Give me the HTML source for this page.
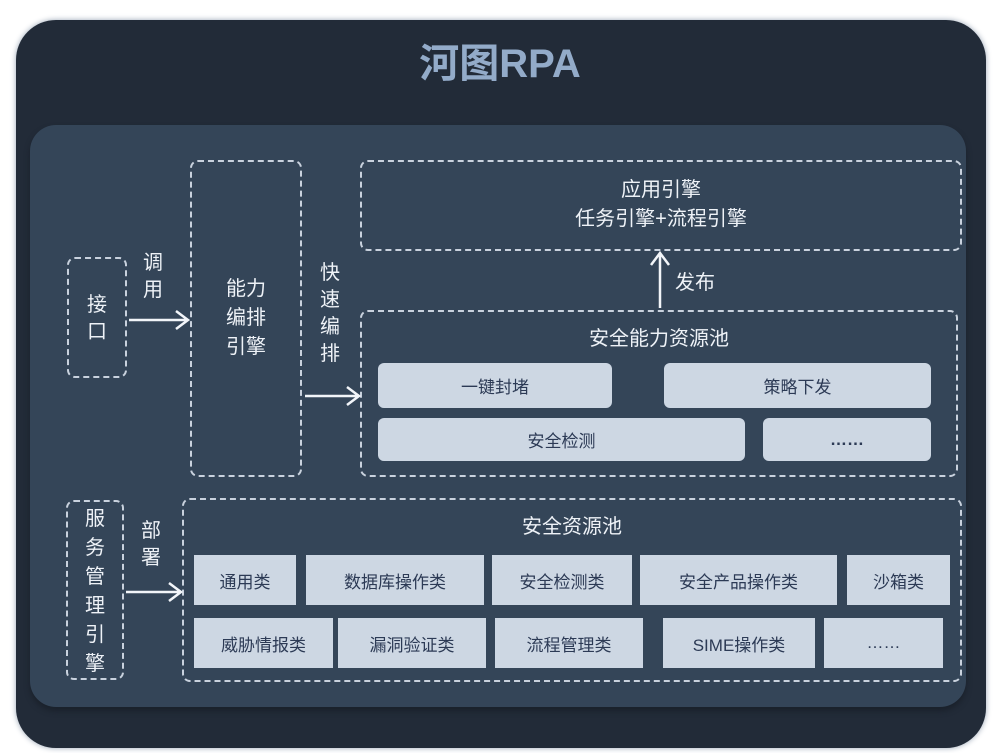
<!DOCTYPE html>
<html><head><meta charset="utf-8"><style>
*{margin:0;padding:0;box-sizing:border-box}
body{width:1000px;height:753px;background:#fff;position:relative;overflow:hidden;font-family:"Liberation Sans","Noto Sans CJK SC",sans-serif}
.a{position:absolute}
.outer{left:16px;top:20px;width:970px;height:728px;background:#222b38;border-radius:40px;box-shadow:0 0 6px #9aa6b6}
.inner{left:30px;top:125px;width:936px;height:582px;background:#344558;border-radius:26px;box-shadow:0 4px 6px #1a212b}
.d{position:absolute;border:2px dashed #c9d2de;border-radius:8px}
.t{position:absolute;color:#eef2f7;font-size:20px;text-align:center;line-height:24px}
.v{position:absolute;color:#eef2f7;font-size:20px;width:24px;text-align:center;line-height:24px}
.c{position:absolute;background:#cdd7e3;color:#2c3a55;font-size:17px;display:flex;align-items:center;justify-content:center}
.r{border-radius:6px}
</style></head><body>
<div class="a outer"></div>
<div class="a inner"></div>
<div class="a" style="left:0;width:1000px;top:38px;text-align:center;font-size:40px;font-weight:bold;color:#93abc9;line-height:52px">河图RPA</div>

<div class="d" style="left:67px;top:257px;width:60px;height:121px"></div>
<div class="v" style="left:85px;top:292px;line-height:27px">接口</div>
<div class="v" style="left:141px;top:250px;line-height:27px">调用</div>

<div class="d" style="left:190px;top:160px;width:112px;height:317px"></div>
<div class="t" style="left:200px;top:275px;width:92px;line-height:29px">能力<br>编排<br>引擎</div>
<div class="v" style="left:318px;top:260px;line-height:27px">快速编排</div>

<div class="d" style="left:360px;top:160px;width:602px;height:91px"></div>
<div class="t" style="left:360px;top:176px;width:602px;line-height:29px">应用引擎<br>任务引擎+流程引擎</div>
<div class="t" style="left:670px;top:271px;width:50px">发布</div>

<div class="d" style="left:360px;top:310px;width:598px;height:167px"></div>
<div class="t" style="left:360px;top:327px;width:598px">安全能力资源池</div>
<div class="c r" style="left:378px;top:363px;width:234px;height:45px">一键封堵</div>
<div class="c r" style="left:664px;top:363px;width:267px;height:45px">策略下发</div>
<div class="c r" style="left:378px;top:418px;width:367px;height:43px">安全检测</div>
<div class="c r" style="left:763px;top:418px;width:168px;height:43px;font-weight:bold">……</div>

<div class="d" style="left:66px;top:500px;width:58px;height:180px"></div>
<div class="v" style="left:83px;top:505px;line-height:29px">服务管理引擎</div>
<div class="v" style="left:139px;top:518px;line-height:27px">部署</div>

<div class="d" style="left:182px;top:498px;width:780px;height:184px"></div>
<div class="t" style="left:182px;top:515px;width:780px">安全资源池</div>
<div class="c" style="left:194px;top:555px;width:102px;height:50px">通用类</div>
<div class="c" style="left:306px;top:555px;width:178px;height:50px">数据库操作类</div>
<div class="c" style="left:492px;top:555px;width:140px;height:50px">安全检测类</div>
<div class="c" style="left:640px;top:555px;width:197px;height:50px">安全产品操作类</div>
<div class="c" style="left:847px;top:555px;width:103px;height:50px">沙箱类</div>
<div class="c" style="left:194px;top:618px;width:139px;height:50px">威胁情报类</div>
<div class="c" style="left:338px;top:618px;width:148px;height:50px">漏洞验证类</div>
<div class="c" style="left:495px;top:618px;width:148px;height:50px">流程管理类</div>
<div class="c" style="left:663px;top:618px;width:152px;height:50px">SIME操作类</div>
<div class="c" style="left:824px;top:618px;width:119px;height:50px">……</div>

<svg class="a" style="left:0;top:0" width="1000" height="753" fill="none" stroke="#f2f5f9" stroke-width="2.5">
<path d="M129 320H187M176 311L188 320L176 329"/>
<path d="M305 396H358M347 387L359 396L347 405"/>
<path d="M660 308V254M651 265L660 253L669 265"/>
<path d="M126 592H180M169 583L181 592L169 601"/>
</svg>
</body></html>
